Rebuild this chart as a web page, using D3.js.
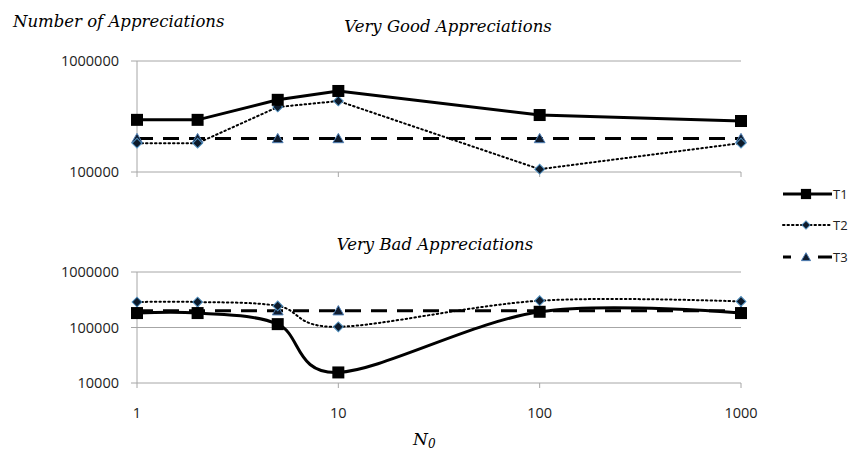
<!DOCTYPE html>
<html>
<head>
<meta charset="utf-8">
<script src="https://cdn.jsdelivr.net/npm/d3@7"></script>
<style>
  body { margin: 0; background: #fff; }
  svg { display: block; }
</style>
</head>
<body>
<div id="chart"></div>
<script>
// Data
var nValues = [1, 2, 5, 10, 100, 1000];
var xTicks = [1, 10, 100, 1000];

var goodT1 = [295000, 295000, 447000, 537000, 326000, 288000];
var goodT2 = [182000, 182000, 385000, 436000, 106000, 182000];
var goodT3 = [200000, 200000, 200000, 200000, 200000, 200000];

var badT1 = [182000, 182000, 115000, 15500, 192000, 182000];
var badT2 = [288000, 288000, 245000, 103000, 304000, 295000];
var badT3 = [200000, 200000, 200000, 200000, 200000, 200000];

var goodTicks = [100000, 1000000];
var badTicks = [10000, 100000, 1000000];
var seriesNames = ['T1', 'T2', 'T3'];

var svgWidth = 861;
var svgHeight = 457;

var svg = d3.select('#chart')
  .append('svg')
  .attr('width', svgWidth)
  .attr('height', svgHeight);

var serif = '"DejaVu Serif", "Liberation Serif", serif';
var sans = '"Open Sans", "Liberation Sans", sans-serif';
var gridColor = '#a6a6a6';

var xScale = d3.scaleLog()
  .domain([1, 1000])
  .range([137, 741]);

var yGood = d3.scaleLog().domain([100000, 1000000]).range([172, 61]);
var yBad = d3.scaleLog().domain([10000, 1000000]).range([383, 272]);

var styles = [
  { dash: null, width: 3, cap: 'butt' },
  { dash: '1.5,3', width: 2, cap: 'round' },
  { dash: '16,10', width: 3, cap: 'butt' }
];

function drawMarker(g, type, x, y, scale) {
  scale = scale || 1;
  if (type === 0) {
    var s = 12 * scale;
    g.append('rect')
      .attr('x', x - s / 2).attr('y', y - s / 2)
      .attr('width', s).attr('height', s)
      .attr('fill', '#000');
  } else if (type === 1) {
    // diamond = square turned 45 degrees
    g.append('path')
      .attr('d', d3.symbol().type(d3.symbolSquare).size(48 * scale * scale)())
      .attr('transform', 'translate(' + x + ',' + y + ') rotate(45)')
      .attr('fill', '#0d1a2a')
      .attr('stroke', '#4f8fbf')
      .attr('stroke-width', 1);
  } else {
    g.append('path')
      .attr('d', d3.symbol().type(d3.symbolTriangle).size(50 * scale * scale)())
      .attr('transform', 'translate(' + x + ',' + (y + 1) + ')')
      .attr('fill', '#101c2e')
      .attr('stroke', '#4f7fb5')
      .attr('stroke-width', 1);
  }
}

function drawPanel(yScale, ticks, series, curve) {
  var g = svg.append('g');

  // horizontal grid lines
  g.selectAll('.grid')
    .data(ticks)
    .enter().append('line')
    .attr('x1', xScale(1) - 6).attr('x2', xScale(1000))
    .attr('y1', d => yScale(d)).attr('y2', d => yScale(d))
    .attr('stroke', gridColor).attr('stroke-width', 1);

  // vertical axis line
  g.append('line')
    .attr('x1', xScale(1)).attr('x2', xScale(1))
    .attr('y1', yScale(ticks[ticks.length - 1])).attr('y2', yScale(ticks[0]))
    .attr('stroke', gridColor).attr('stroke-width', 1);

  // x tick marks on the bottom line
  g.selectAll('.xt')
    .data(xTicks)
    .enter().append('line')
    .attr('x1', d => xScale(d)).attr('x2', d => xScale(d))
    .attr('y1', yScale(ticks[0])).attr('y2', yScale(ticks[0]) + 5)
    .attr('stroke', gridColor).attr('stroke-width', 1);

  // y tick labels
  g.selectAll('.yl')
    .data(ticks)
    .enter().append('text')
    .attr('x', 119)
    .attr('y', d => yScale(d) + 5)
    .attr('text-anchor', 'end')
    .style('font-family', sans)
    .style('font-size', '14.5px')
    .attr('fill', '#222')
    .text(d => d);

  var line = d3.line()
    .x((d, i) => xScale(nValues[i]))
    .y(d => yScale(d));

  // draw lines, T3 first so the others sit on top
  [2, 1, 0].forEach(function (k) {
    var st = styles[k];
    var c = (k === 2) ? d3.curveLinear : curve;
    g.append('path')
      .datum(series[k])
      .attr('d', line.curve(c))
      .attr('fill', 'none')
      .attr('stroke', '#000')
      .attr('stroke-width', st.width)
      .attr('stroke-linecap', st.cap)
      .attr('stroke-dasharray', st.dash);
  });

  [2, 1, 0].forEach(function (k) {
    series[k].forEach(function (v, i) {
      drawMarker(g, k, xScale(nValues[i]), yScale(v));
    });
  });
}

drawPanel(yGood, goodTicks, [goodT1, goodT2, goodT3], d3.curveLinear);
drawPanel(yBad, badTicks, [badT1, badT2, badT3], d3.curveCardinal);

// x tick labels under the bottom panel
svg.selectAll('.xl')
  .data(xTicks)
  .enter().append('text')
  .attr('x', d => xScale(d))
  .attr('y', 418)
  .attr('text-anchor', 'middle')
  .style('font-family', sans)
  .style('font-size', '14.5px')
  .attr('fill', '#222')
  .text(d => d);

// titles
svg.append('text')
  .attr('x', 13).attr('y', 27)
  .style('font-family', serif).style('font-style', 'italic')
  .style('font-size', '16.5px')
  .text('Number of Appreciations');

svg.append('text')
  .attr('x', 448).attr('y', 32)
  .attr('text-anchor', 'middle')
  .style('font-family', serif).style('font-style', 'italic')
  .style('font-size', '16.5px')
  .text('Very Good Appreciations');

svg.append('text')
  .attr('x', 435).attr('y', 250)
  .attr('text-anchor', 'middle')
  .style('font-family', serif).style('font-style', 'italic')
  .style('font-size', '16.5px')
  .text('Very Bad Appreciations');

var nLabel = svg.append('text')
  .attr('x', 413).attr('y', 445)
  .style('font-family', serif).style('font-style', 'italic')
  .style('font-size', '17px');
nLabel.append('tspan').text('N');
nLabel.append('tspan').attr('dy', 3).style('font-size', '12px').text('0');

// legend
var legend = svg.append('g');
var legendY = [194, 225, 257];
var legendDash = [null, '1.5,3', '8,27,14'];
seriesNames.forEach(function (name, k) {
  var y = legendY[k];
  var st = styles[k];
  legend.append('line')
    .attr('x1', 783).attr('x2', 832)
    .attr('y1', y).attr('y2', y)
    .attr('stroke', '#000')
    .attr('stroke-width', st.width)
    .attr('stroke-linecap', st.cap)
    .attr('stroke-dasharray', legendDash[k]);
  drawMarker(legend, k, 806, y, 0.85);
  legend.append('text')
    .attr('x', 833).attr('y', y + 5)
    .style('font-family', sans)
    .style('font-size', '13px')
    .attr('fill', '#222')
    .text(name);
});
</script>
</body>
</html>
